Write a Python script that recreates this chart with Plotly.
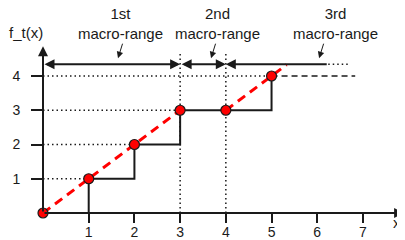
import plotly.graph_objects as go

# ---- data ----
step_x = [1, 1, 2, 2, 3, 3, 5, 5]
step_y = [0, 1, 1, 2, 2, 3, 3, 4]
tail_x = [5, 6.83]
tail_y = [4, 4]
pts_x = [0, 1, 2, 3, 4, 5]
pts_y = [0, 1, 2, 3, 3, 4]
red1_x = [0, 3]
red1_y = [0, 3]
red2_x = [4, 5.33]
red2_y = [3, 4.33]
x_ticks = [1, 2, 3, 4, 5, 6, 7]
y_ticks = [1, 2, 3, 4]
range_bounds = [0, 3, 4, 6.24, 6.72]
range_y = 4.34
range_labels = ["1st<br>macro-range", "2nd<br>macro-range", "3rd<br>macro-range"]
label_x = [1.685, 3.82, 6.39]
label_head_x = [1.641, 3.676, 6.04]

INK = "#1a1a1a"
FONT = "Arial, Liberation Sans, sans-serif"
DOT = "1.5px,3px"

fig = go.Figure()

# dotted guide lines
guides = [([0, 1], [1, 1]), ([0, 2], [2, 2]), ([0, 3], [3, 3]), ([0, 5], [4, 4]),
          ([3, 3], [0, 4.69]), ([4, 4], [0, 4.69])]
for gx, gy in guides:
    fig.add_trace(go.Scatter(x=gx, y=gy, mode="lines",
                             line=dict(color=INK, width=1.5, dash=DOT),
                             hoverinfo="skip", showlegend=False))

# step function
fig.add_trace(go.Scatter(x=step_x, y=step_y, mode="lines",
                         line=dict(color=INK, width=2), showlegend=False))
fig.add_trace(go.Scatter(x=tail_x, y=tail_y, mode="lines",
                         line=dict(color=INK, width=1.5, dash="6px,4px"), showlegend=False))

# red dashed lines
for rx, ry in [(red1_x, red1_y), (red2_x, red2_y)]:
    fig.add_trace(go.Scatter(x=rx, y=ry, mode="lines",
                             line=dict(color="#ff0000", width=3, dash="9px,6px"),
                             showlegend=False))

# points
fig.add_trace(go.Scatter(x=pts_x, y=pts_y, mode="markers", cliponaxis=False,
                         marker=dict(size=10, color="#ff0000",
                                     line=dict(color=INK, width=1.2)),
                         showlegend=False))

# third range dotted continuation
fig.add_trace(go.Scatter(x=[range_bounds[3], range_bounds[4]], y=[range_y, range_y],
                         mode="lines", line=dict(color=INK, width=1.5, dash=DOT),
                         showlegend=False))

ann = []
# axes with arrows
ann.append(dict(x=7.9, y=0, ax=0, ay=0, xref="x", yref="y", axref="x", ayref="y",
                showarrow=True, arrowhead=2, arrowsize=1, arrowwidth=2,
                arrowcolor=INK, text=""))
ann.append(dict(x=0, y=4.87, ax=0, ay=0, xref="x", yref="y", axref="x", ayref="y",
                showarrow=True, arrowhead=2, arrowsize=1, arrowwidth=2,
                arrowcolor=INK, text=""))
# macro-range arrows
ann.append(dict(x=range_bounds[1], y=range_y, ax=range_bounds[0], ay=range_y,
                xref="x", yref="y", axref="x", ayref="y", showarrow=True,
                arrowhead=2, startarrowhead=2, arrowside="end+start",
                arrowsize=1, arrowwidth=2, arrowcolor=INK, text=""))
ann.append(dict(x=range_bounds[2], y=range_y, ax=range_bounds[1], ay=range_y,
                xref="x", yref="y", axref="x", ayref="y", showarrow=True,
                arrowhead=2, startarrowhead=2, arrowside="end+start",
                arrowsize=1, arrowwidth=2, arrowcolor=INK, text=""))
ann.append(dict(x=range_bounds[2], y=range_y, ax=range_bounds[3], ay=range_y,
                xref="x", yref="y", axref="x", ayref="y", showarrow=True,
                arrowhead=2, arrowsize=1, arrowwidth=2, arrowcolor=INK, text=""))
# labels + small pointers
for lx, hx, txt in zip(label_x, label_head_x, range_labels):
    ann.append(dict(x=lx, y=5.52, xref="x", yref="y", text=txt, showarrow=False,
                    borderpad=0, font=dict(family=FONT, size=15, color=INK),
                    align="center"))
    ann.append(dict(x=hx, y=4.52, xref="x", yref="y", ax=5, ay=-16, text="",
                    showarrow=True, arrowhead=2, arrowsize=1.3, arrowwidth=1,
                    arrowcolor=INK))
# axis titles
ann.append(dict(x=0.05, y=5.27, xref="x", yref="y", text="f_t(x)", showarrow=False,
                xanchor="right", font=dict(family=FONT, size=15, color=INK)))
ann.append(dict(x=0.962, y=-0.044, xref="paper", yref="paper", text="x", showarrow=False,
                xanchor="left", yanchor="middle", font=dict(family=FONT, size=15, color=INK)))

# the page body adds an 8px offset, so the figure is 8px smaller and shifted
fig.update_layout(
    width=397, height=232,
    margin=dict(l=35, r=0, t=0, b=27, autoexpand=False),
    plot_bgcolor="white", paper_bgcolor="white",
    annotations=ann,
    xaxis=dict(range=[0, 362 / 45.71], tickvals=x_ticks, ticktext=[str(v) for v in x_ticks],
               ticks="outside", ticklen=9, tickwidth=2, tickcolor=INK, automargin=False,
               showgrid=False, zeroline=False, showline=False, ticklabelstandoff=-3,
               tickfont=dict(family=FONT, size=14, color=INK)),
    yaxis=dict(range=[0, 205 / 34.25], tickvals=y_ticks, ticktext=[str(v) for v in y_ticks],
               ticks="outside", ticklen=11, tickwidth=2, tickcolor=INK, automargin=False,
               showgrid=False, zeroline=False, showline=False, ticklabelstandoff=8,
               tickfont=dict(family=FONT, size=14, color=INK)),
)

fig.write_html("out.html")
